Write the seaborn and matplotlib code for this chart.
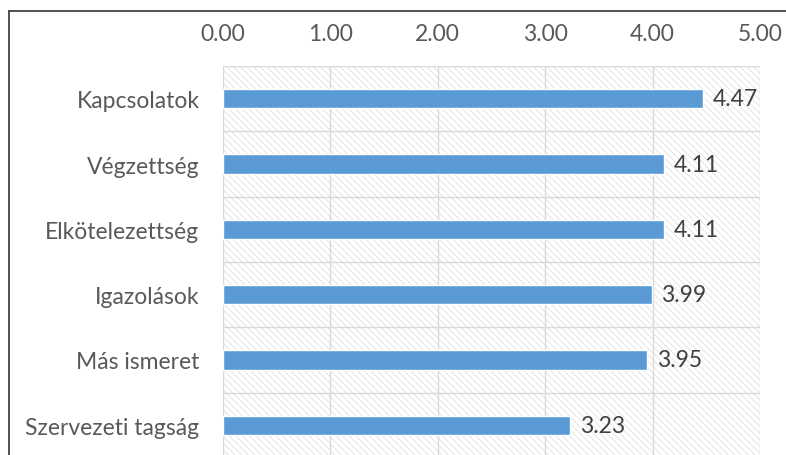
import matplotlib
matplotlib.use('Agg')
import matplotlib.pyplot as plt
import seaborn as sns
import pandas as pd
from matplotlib.patches import Rectangle
from matplotlib.lines import Line2D

# adatok
kategoriak = ['Kapcsolatok', 'Végzettség', 'Elkötelezettség', 'Igazolások',
              'Más ismeret', 'Szervezeti tagság']
ertekek = [4.47, 4.11, 4.11, 3.99, 3.95, 3.23]
tick_ertekek = [0, 1, 2, 3, 4, 5]
tick_cimkek = ['0.00', '1.00', '2.00', '3.00', '4.00', '5.00']

df = pd.DataFrame({'kategoria': kategoriak, 'ertek': ertekek})

sns.set_style('white')
plt.rcParams['font.family'] = ['Lato', 'DejaVu Sans']
plt.rcParams['hatch.linewidth'] = 0.5

W, H = 786, 456
fig = plt.figure(figsize=(W / 100, H / 100), dpi=100)
x0, x1 = 223, 760
y_top, y_bot = 67, 459
ax = fig.add_axes([x0 / W, 1 - y_bot / H, (x1 - x0) / W, (y_bot - y_top) / H])

# csíkozott háttér
hatter = Rectangle((0, 0), 1, 1, transform=ax.transAxes, facecolor='white',
                   edgecolor='#dadada', linewidth=0, hatch='\\' * 5, zorder=0.1)
ax.add_patch(hatter)

sns.barplot(data=df, x='ertek', y='kategoria', orient='h', color='#5B9BD5',
            width=0.3, saturation=1, ax=ax, zorder=3)

ax.set_xlim(0, 5)
ax.set_ylim(5.5, -0.5)
ax.set_xticks(tick_ertekek)
ax.set_xticklabels(tick_cimkek)
ax.xaxis.tick_top()
ax.set_xlabel('')
ax.set_ylabel('')

# rácsvonalak
ax.set_axisbelow(True)
ax.grid(axis='x', color='#d9d9d9', linewidth=1)
for b in [-0.5, 0.5, 1.5, 2.5, 3.5, 4.5]:
    ax.axhline(b, color='#d9d9d9', linewidth=1, zorder=0.5)
for s in ax.spines.values():
    s.set_visible(False)

ax.tick_params(axis='x', length=0, pad=16, labelsize=16.5, labelcolor='#595959')
ax.tick_params(axis='y', length=0, pad=17, labelsize=16.5, labelcolor='#595959')

# értékcímkék
for i, v in enumerate(ertekek):
    ax.annotate(f'{v:.2f}', (v, i), xytext=(7, 0), textcoords='offset points',
                va='center', ha='left', fontsize=16.5, color='#404040')

# keret
fig.add_artist(Line2D([9 / W, 1], [1 - 12 / H, 1 - 12 / H], color='#333333',
                      linewidth=1.2, transform=fig.transFigure))
fig.add_artist(Line2D([9 / W, 9 / W], [0, 1 - 12 / H], color='#333333',
                      linewidth=1.2, transform=fig.transFigure))

fig.savefig('out.png', dpi=100)
